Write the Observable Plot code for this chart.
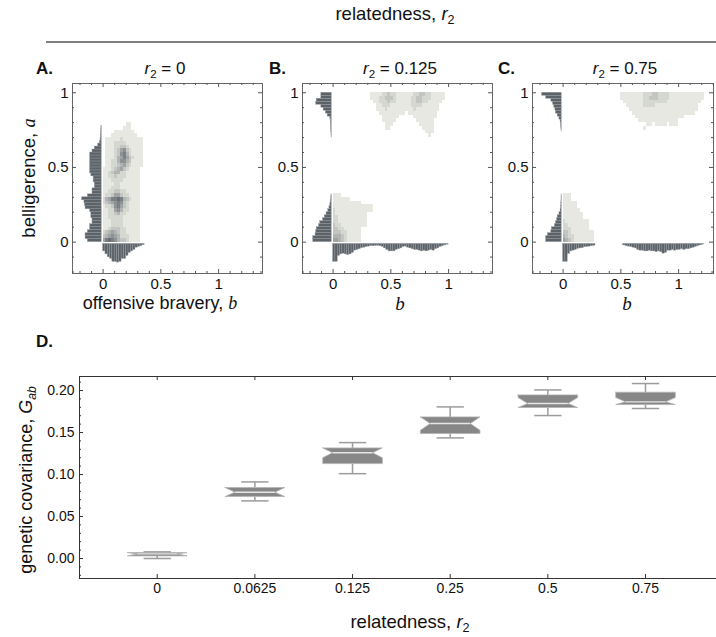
<!DOCTYPE html>
<html><head><meta charset="utf-8">
<script src="https://cdn.jsdelivr.net/npm/d3@7"></script>
<script src="https://cdn.jsdelivr.net/npm/@observablehq/plot@0.6"></script>
<style>
body{margin:0;background:#fff;overflow:hidden}
#root{position:relative;width:716px;height:637px;overflow:hidden;font-family:"Liberation Sans",Arial,Helvetica,sans-serif;color:#111}
.abs{position:absolute;white-space:nowrap;line-height:1}
.var{font-family:"Liberation Serif","DejaVu Serif",serif;font-style:italic}
.sub{font-size:0.68em;position:relative;top:0.32em}
</style></head><body><div id="root"></div>
<script>
// ---------- DATA ----------
// 2D histogram rows: [a (row bottom), b (first cell left), density levels per 0.025 cell ('.' = empty)]
const rowsA = [
  [0.775,0,"........11"],[0.750,0,".......111"],[0.725,0,"....1111111"],[0.700,0,"...111111111"],
  [0.675,0,".1111121111111"],[0.650,0,".1112222111111"],[0.625,0,".1112233211111"],[0.600,0,".1112356321111"],
  [0.575,0,".1112367421111"],[0.550,0,".1112457532111"],[0.525,0,".1122466431111"],[0.500,0,".1122345321111"],
  [0.475,0,"1112345321111"],[0.450,0,"1123442211111"],[0.425,0,"1122322211111"],[0.400,0,"1112222111111"],
  [0.375,0,"1111221111111"],[0.350,0,"1112221111111"],[0.325,0,"1122332211111"],[0.300,0,"1223553221111"],
  [0.275,0,"2457787432111"],[0.250,0,"2345676321111"],[0.225,0,"1223675321111"],[0.200,0,"1122564221111"],
  [0.175,0,"1122342211111"],[0.150,0,"1122222111111"],[0.125,0,"1112222111111"],[0.100,0,"1112222111111"],
  [0.075,0,"1123332211111"],[0.050,0,"2345432211111"],[0.025,0,"3456542221111"],[0.000,0,"5787643321111"]
];
const rowsB = [
  [0.300,0,"111"],[0.275,0,"111111"],[0.250,0,"1111111111"],[0.225,0,"11111111111111"],
  [0.200,0,"21111111111111"],[0.175,0,"211111111111"],[0.150,0,"221111111111"],[0.125,0,"221111111111"],
  [0.100,0,"322111111111"],[0.075,0,"3322111111"],[0.050,0,"3332211111"],[0.025,0,"4443211111"],[0.000,0,"5543211111"],
  [0.975,0.325,"11112232211111122332211111"],[0.950,0.325,"11122333211111223322211111"],
  [0.925,0.35,"112223221111122332211111"],[0.900,0.375,"1122211111112222111111"],
  [0.875,0.375,"1112111111111211111111"],[0.850,0.4,"111111111.1111111111"],
  [0.825,0.425,"111111.....11111111"],[0.800,0.425,"11111.......111111"],
  [0.775,0.45,"111.........11111"],[0.750,0.45,"11...........1111"],
  [0.725,0.8,"111"],[0.700,0.825,"1"]
];
const rowsC = [
  [0.300,0,"111"],[0.275,0,"111"],[0.250,0,"11111"],[0.225,0,"11111"],[0.200,0,"111111"],
  [0.175,0,"1111111"],[0.150,0,"1111111"],[0.125,0,"211111111"],[0.100,0,"221111111"],
  [0.075,0,"222111111"],[0.050,0,"33211111111"],[0.025,0,"43221111111"],[0.000,0,"54321111111"],
  [0.975,0.5,"11111111222332222111111111111"],[0.950,0.5,"11111111223332222111111111111"],
  [0.925,0.525,"111111122222222111111111111"],[0.900,0.55,"1111112222111111111111111"],
  [0.875,0.575,"111111111111111111111111"],[0.850,0.6,"1111111111111111111111"],
  [0.825,0.625,"11111111111111111"],[0.800,0.65,"11111111111111"],
  [0.775,0.725,"11.1111.111"],[0.750,0.7,"1"]
];
// marginal histograms, bins of 0.02 starting at 0 (bar length in axis units)
const histA_a = [0.12,0.14,0.14,0.12,0.10,0.10,0.08,0.08,0.09,0.09,0.10,0.14,0.145,0.15,0.17,0.12,0.08,0.08,0.06,0.06,
  0.07,0.07,0.09,0.10,0.10,0.10,0.10,0.10,0.10,0.10,0.08,0.06,0.03,0.015,0.01,0.008,0.005,0.004,0.003];
const histA_b = [0.05,0.07,0.09,0.10,0.12,0.12,0.125,0.12,0.10,0.10,0.08,0.06,0.05,0.04,0.025,0.02,0.015,0.008];
const histB_a = [0.16,0.16,0.14,0.135,0.13,0.11,0.10,0.075,0.06,0.045,0.03,0.02,0.012,0.008,0.005,0.003,
  0,0,0,0,0,0,0,0,0,0,0,0,0,0,0,0,0,0,0,
  0.002,0.003,0.004,0.005,0.006,0.008,0.012,0.035,0.05,0.07,0.09,0.135,0.13,0.09,0.09];
const histB_b = [0.12,0.12,0.08,0.07,0.065,0.07,0.075,0.07,0.06,0.045,0.04,0.035,0.028,0.025,0.02,0.018,0.015,0.015,0.013,0.012,
  0.015,0.02,0.03,0.04,0.05,0.05,0.05,0.04,0.035,0.03,0.02,0.018,0.025,0.03,0.035,0.04,0.04,0.045,0.05,0.045,
  0.05,0.045,0.04,0.045,0.035,0.03,0.02,0.015,0.01,0.005];
const histC_a = [0.135,0.135,0.12,0.09,0.085,0.06,0.05,0.04,0.035,0.02,0.01,0.006,0.004,0.003,0.002,0.002,
  0,0,0,0,0,0,0,0,0,0,0,0,0,0,0,0,0,0,0,0,0,
  0.002,0.004,0.006,0.01,0.02,0.035,0.05,0.055,0.065,0.075,0.09,0.135,0.17];
const histC_b = [0.12,0.12,0.067,0.05,0.045,0.04,0.033,0.03,0.028,0.022,0.02,0.018,0.015,0.012,
  0,0,0,0,0,0,0,0,0,0,0,0,
  0.01,0.015,0.018,0.02,0.025,0.03,0.04,0.045,0.045,0.05,0.05,0.045,0.05,0.05,0.055,0.05,0.055,0.065,0.06,0.045,
  0.045,0.04,0.045,0.04,0.04,0.035,0.04,0.035,0.035,0.03,0.025,0.02,0.015,0.01,0.005];
const topMajor = [0, 0.5, 1];
const topMinor = [-0.2,-0.1,0.1,0.2,0.3,0.4,0.6,0.7,0.8,0.9,1.1,1.2,1.3];

// panel D: notched box plots of G_ab
const rValues   = ["0","0.0625","0.125","0.25","0.5","0.75"];
const whiskerLo = [0.0000,0.0686,0.1010,0.1436,0.1702,0.1786];
const q1        = [0.0031,0.0738,0.1130,0.1488,0.1798,0.1833];
const median    = [0.0055,0.0789,0.1260,0.1607,0.1845,0.1865];
const q3        = [0.0071,0.0845,0.1317,0.1686,0.1948,0.1980];
const whiskerHi = [0.0079,0.0912,0.1380,0.1805,0.2007,0.2083];
const notchLo   = [0.0031,0.0738,0.1200,0.1527,0.1798,0.1833];
const notchHi   = [0.0071,0.0845,0.1317,0.1686,0.1917,0.1917];
const dMajor = [0,0.05,0.1,0.15,0.2];
const dMinor = [-0.02,-0.01,0.01,0.02,0.03,0.04,0.06,0.07,0.08,0.09,0.11,0.12,0.13,0.14,0.16,0.17,0.18,0.19,0.21];

// ---------- HELPERS ----------
const CELL = 0.025, HB = 0.02, BASE = -0.012;
function cellsFrom(rows){
  const out=[];
  for(const [a,b0,s] of rows) for(let i=0;i<s.length;i++){
    if(s[i]===".") continue;
    out.push({b1:b0+i*CELL,b2:b0+(i+1)*CELL,a1:a,a2:a+CELL,level:+s[i]});
  }
  return out;
}
const histFrom = v => v.map((len,i)=>({s:i*HB,e:(i+1)*HB,len})).filter(d=>d.len>0);
const root = document.getElementById("root");
function place(el,left,top){el.style.position="absolute";el.style.left=left+"px";el.style.top=top+"px";el.style.maxWidth="none";root.appendChild(el);}
function addText(html,cx,cy,o={}){
  const d=document.createElement("div");d.className="abs";d.innerHTML=html;
  d.style.left=cx+"px";d.style.top=cy+"px";d.style.fontSize=(o.size||18)+"px";
  if(o.bold) d.style.fontWeight="bold";
  d.style.transform=`translate(${o.start?"0":"-50%"},-50%)`+(o.rotate?" rotate(-90deg)":"");
  root.appendChild(d);
}
const fmtTop = d => String(d);
// inward frame ticks drawn as short rules (frame size fh x fw px)
function frameTicksX(vals,fh,len,color,top){return Plot.ruleX(vals,{stroke:color,strokeWidth:1,[top?"insetBottom":"insetTop"]:fh-len});}
function frameTicksY(vals,fw,len,color,right){return Plot.ruleY(vals,{stroke:color,strokeWidth:1,[right?"insetLeft":"insetRight"]:fw-len});}

function topPanel({rows,aHist,bHist,xMax,width,marginLeft}){
  const xDom=[-0.265,xMax], yDom=[-0.21,1.062];
  const fw=width-marginLeft-8, fh=190;
  const inX = t => t>=xDom[0]&&t<=xDom[1], inY = t => t>=yDom[0]&&t<=yDom[1];
  const xMaj=topMajor.filter(inX), xMin=topMinor.filter(inX), yMaj=topMajor.filter(inY), yMin=topMinor.filter(inY);
  const tc="#555";
  return Plot.plot({
    width,height:225,marginLeft,marginRight:8,marginTop:8,marginBottom:27,
    x:{domain:xDom,axis:null}, y:{domain:yDom,axis:null},
    color:{type:"linear",domain:[1,10],range:["#e7e8e1","#444c55"]},
    style:{fontFamily:"'Liberation Sans',Arial,sans-serif",fontSize:"15px",color:"#111",background:"transparent",overflow:"visible"},
    marks:[
      Plot.rect(cellsFrom(rows),{x1:"b1",x2:"b2",y1:"a1",y2:"a2",fill:"level",shapeRendering:"crispEdges"}),
      Plot.rect(histFrom(aHist),{x1:d=>BASE-d.len,x2:BASE,y1:"s",y2:"e",fill:"#5b6268",stroke:"#979ca1",strokeWidth:0.4}),
      Plot.rect(histFrom(bHist),{x1:"s",x2:"e",y1:d=>BASE-d.len,y2:BASE,fill:"#5b6268",stroke:"#979ca1",strokeWidth:0.4}),
      Plot.frame({stroke:"#666"}),
      frameTicksX(xMin,fh,2,tc,false), frameTicksX(xMin,fh,2,tc,true),
      frameTicksX(xMaj,fh,4,tc,false), frameTicksX(xMaj,fh,4,tc,true),
      frameTicksY(yMin,fw,2,tc,false), frameTicksY(yMin,fw,2,tc,true),
      frameTicksY(yMaj,fw,4,tc,false), frameTicksY(yMaj,fw,4,tc,true),
      Plot.axisX(xMaj,{anchor:"bottom",tickSize:0,tickPadding:5,tickFormat:fmtTop,label:null}),
      Plot.axisY(yMaj,{anchor:"left",tickSize:0,tickPadding:4,tickFormat:fmtTop,label:null})
    ]
  });
}

// ---------- TEXT ----------
addText('relatedness, <i>r</i><span class="sub">2</span>',395,14,{size:18.5});
const line=document.createElement("div");line.style.cssText="width:670px;height:2px;background:#808080";place(line,46,41);
addText("A.",36,68,{size:17,bold:true,start:true});
addText('<i>r</i><span class="sub">2</span> = 0',165,68,{size:17});
addText("B.",269,68,{size:17,bold:true,start:true});
addText('<i>r</i><span class="sub">2</span> = 0.125',400,68,{size:17});
addText("C.",498,68,{size:17,bold:true,start:true});
addText('<i>r</i><span class="sub">2</span> = 0.75',625,68,{size:17});

// ---------- PANELS A-C ----------
place(topPanel({rows:rowsA,aHist:histA_a,bHist:histA_b,xMax:1.38,width:270,marginLeft:72}),0,75);
place(topPanel({rows:rowsB,aHist:histB_a,bHist:histB_b,xMax:1.38,width:238,marginLeft:40}),262,75);
place(topPanel({rows:rowsC,aHist:histC_a,bHist:histC_b,xMax:1.302,width:229,marginLeft:40}),492,75);

addText('offensive bravery, <span class="var">b</span>',160,303,{size:18});
addText('<span class="var">b</span>',400,303,{size:19});
addText('<span class="var">b</span>',627,303,{size:19});
addText('belligerence, <span class="var">a</span>',29,178,{size:18.5,rotate:true});

// ---------- PANEL D ----------
addText("D.",36,341,{size:17,bold:true,start:true});
const boxW=0.305, notchIn=0.1, capW=0.14;
const idx=rValues.map((r,i)=>i);
const boxPts=idx.flatMap(i=>[
  [i-boxW,q3[i]],[i+boxW,q3[i]],[i+boxW,notchHi[i]],[i+boxW-notchIn,median[i]],[i+boxW,notchLo[i]],
  [i+boxW,q1[i]],[i-boxW,q1[i]],[i-boxW,notchLo[i]],[i-boxW+notchIn,median[i]],[i-boxW,notchHi[i]],[i-boxW,q3[i]]
].map(([x,y])=>({i,x,y})));
const dx=[-0.796,5.768], dy=[-0.0238,0.2167];
const inDY=t=>t>=dy[0]&&t<=dy[1];
const dFw=720-79, dFh=202, dc="#333";
const plotD=Plot.plot({
  width:720,height:267,marginLeft:79,marginRight:0,marginTop:6,marginBottom:59,
  x:{domain:dx,axis:null}, y:{domain:dy,axis:null},
  style:{fontFamily:"'Liberation Sans',Arial,sans-serif",fontSize:"14px",color:"#111",background:"transparent",overflow:"visible"},
  marks:[
    Plot.ruleY(dy,{stroke:dc}),
    Plot.ruleX([dx[0]],{stroke:dc}),
    frameTicksX(idx,dFh,4,dc,false), frameTicksX(idx,dFh,4,dc,true),
    frameTicksY(dMajor,dFw,4,dc,false), frameTicksY(dMinor.filter(inDY),dFw,2,dc,false),
    Plot.link(idx,{x1:i=>i,x2:i=>i,y1:i=>q3[i],y2:i=>whiskerHi[i],stroke:"#9c9c9c",strokeWidth:1.5}),
    Plot.link(idx,{x1:i=>i,x2:i=>i,y1:i=>q1[i],y2:i=>whiskerLo[i],stroke:"#9c9c9c",strokeWidth:1.5}),
    Plot.link(idx,{x1:i=>i-capW,x2:i=>i+capW,y1:i=>whiskerHi[i],y2:i=>whiskerHi[i],stroke:"#9c9c9c",strokeWidth:1.5}),
    Plot.link(idx,{x1:i=>i-capW,x2:i=>i+capW,y1:i=>whiskerLo[i],y2:i=>whiskerLo[i],stroke:"#9c9c9c",strokeWidth:1.5}),
    Plot.line(boxPts,{x:"x",y:"y",z:"i",fill:"#878787",stroke:"#b3b3b3",strokeWidth:0.8,curve:"linear"}),
    Plot.link(idx,{x1:i=>i-boxW+notchIn,x2:i=>i+boxW-notchIn,y1:i=>median[i],y2:i=>median[i],stroke:"#e6e6e6",strokeWidth:1.4}),
    Plot.axisX(idx,{anchor:"bottom",tickSize:0,tickPadding:5,tickFormat:i=>rValues[i],label:null}),
    Plot.axisY(dMajor,{anchor:"left",tickSize:0,tickPadding:5,tickFormat:d3.format(".2f"),label:null})
  ]
});
place(plotD,0,370);
addText('genetic covariance, <i>G</i><span class="sub"><i>ab</i></span>',26,480,{size:18,rotate:true});
addText('relatedness, <i>r</i><span class="sub">2</span>',410,622,{size:18.5});
</script></body></html>
